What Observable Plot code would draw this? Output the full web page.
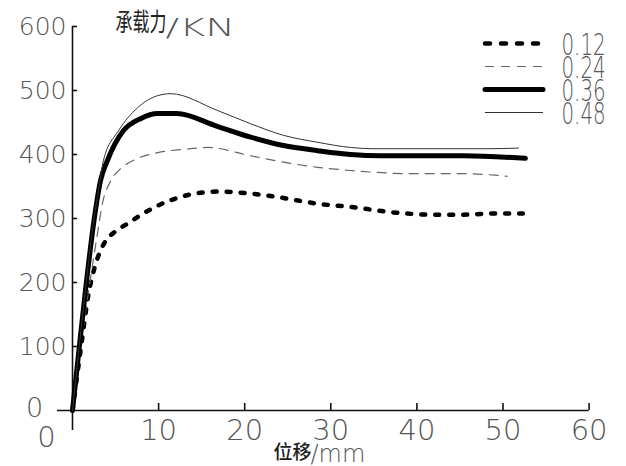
<!DOCTYPE html>
<html><head><meta charset="utf-8">
<script src="https://cdn.jsdelivr.net/npm/d3@7"></script>
<script src="https://cdn.jsdelivr.net/npm/@observablehq/plot@0.6"></script>
<style>
body{margin:0;background:#fff;}
#wrap{position:relative;width:626px;height:466px;}
#legend{position:absolute;left:478px;top:25px;}
</style></head><body><div id="wrap"></div>
<script>
// ---- data ----
const seriesNames = ["0.12", "0.24", "0.36", "0.48"];
const x012 = [0, 1.0, 1.9, 2.5, 3.1, 3.8, 5.0, 6.4, 8.25, 10.2, 12.9, 16.8, 20.7, 24.5, 28.5, 32.3, 37.7, 41.6, 45.4, 49.4, 52.3];
const y012 = [0, 100, 185, 220, 245, 264, 280, 292, 308, 322, 335, 342, 339, 332, 323, 318, 309, 306, 306, 308, 308];
const x024 = [0, 1.0, 1.9, 2.8, 3.5, 4.5, 5.6, 7.1, 9.9, 12.9, 15.7, 20.7, 24.5, 28.5, 32.3, 39.6, 45.4, 50.5];
const y024 = [0, 105, 190, 268, 325, 360, 378, 391, 403, 408, 411, 398, 388, 380, 375, 370, 370, 366];
const x036 = [0, 0.78, 1.5, 2.5, 3.25, 4.07, 5.9, 7.9, 9.9, 12.1, 16.8, 20.7, 24.5, 28.5, 32.3, 35.8, 45.4, 52.6];
const y036 = [0, 98, 187, 297, 359, 391, 437, 456, 464, 464, 444, 427, 414, 406, 400, 398, 398, 394];
const x048 = [0, 0.78, 1.5, 2.5, 3.02, 3.6, 5.34, 7.55, 9.9, 11.4, 16.8, 20.7, 24.5, 28.5, 32.3, 35, 48, 51.8];
const y048 = [0, 100, 190, 300, 344, 391, 437, 473, 492, 495, 469, 448, 430, 419, 411, 409, 409, 410];
const xTicks = [10, 20, 30, 40, 50, 60];
const yTicks = [100, 200, 300, 400, 500, 600];
const zeroLabel = ["0"];
const yTitleCJK = ["承载力"];
const yTitleUnit = ["/KN"];
const xTitleCJK = ["位移"];
const xTitleUnit = ["/mm"];

// ---- build table ----
const xs = [x012, x024, x036, x048];
const ys = [y012, y024, y036, y048];
const table = [];
seriesNames.forEach((s, k) => xs[k].forEach((x, i) => table.push({series: s, x, y: ys[k][i]})));

const styles = {
  "0.12": {stroke: "#000", strokeWidth: 4.5, strokeDasharray: "4,10", strokeLinecap: "round"},
  "0.24": {stroke: "#666", strokeWidth: 1.2, strokeDasharray: "9,7"},
  "0.36": {stroke: "#000", strokeWidth: 5, strokeLinecap: "round"},
  "0.48": {stroke: "#333", strokeWidth: 1}
};

const FONT = "DejaVu Sans";
const TXT = "#555";
const CJK = "Noto Sans CJK SC";

const chart = Plot.plot({
  width: 626, height: 466,
  marginLeft: 72, marginRight: 37.4, marginTop: 26, marginBottom: 56,
  x: {domain: [0, 60]},
  y: {domain: [0, 600]},
  style: {fontFamily: FONT, background: "white", overflow: "visible", fontWeight: 200},
  marks: [
    Plot.ruleX([0], {stroke: "#111", strokeWidth: 1.6, insetBottom: -20}),
    Plot.ruleY([0], {stroke: "#111", strokeWidth: 1.6, insetLeft: -15}),
    Plot.ruleX(xTicks, {x: d => d, y1: 0, y2: 0, insetTop: -7, stroke: "#111", strokeWidth: 1.6}),
    Plot.ruleY(yTicks, {y: d => d, x1: 0, x2: 0, insetRight: -5, stroke: "#111", strokeWidth: 1.6}),
    Plot.axisY(yTicks, {tickSize: 0, tickPadding: 6, fontSize: 25, color: TXT, label: null, fontWeight: 200}),
    Plot.axisX(xTicks, {tickSize: 0, tickPadding: 9, fontSize: 29, color: TXT, label: null, fontWeight: 200}),
    Plot.text(zeroLabel, {x: 0, y: 0, dx: -38, dy: -2, fontSize: 27, fill: TXT, fontWeight: 200}),
    Plot.text(zeroLabel, {x: 0, y: 0, dx: -26, dy: 27, fontSize: 29, fill: TXT, fontWeight: 200}),
    Plot.text(yTitleCJK, {frameAnchor: "top-left", dx: 43, dy: -13, lineAnchor: "top", fontSize: 25, fill: "#222", fontFamily: CJK, fontWeight: 400}),
    Plot.text(yTitleUnit, {frameAnchor: "top-left", dx: 93, dy: -8, lineAnchor: "top", fontSize: 25, fill: TXT, fontWeight: 200}),
    Plot.text(xTitleCJK, {frameAnchor: "bottom-left", dx: 201, dy: 35, lineAnchor: "top", fontSize: 19, fill: "#222", fontFamily: CJK, fontWeight: 500}),
    Plot.text(xTitleUnit, {frameAnchor: "bottom-left", dx: 238, dy: 34, lineAnchor: "top", fontSize: 24, fill: TXT, fontWeight: 200}),
    ...seriesNames.map(s => Plot.line(table.filter(d => d.series === s), {x: "x", y: "y", curve: "monotone-x", ...styles[s]}))
  ]
});

const legend = Plot.plot({
  width: 148, height: 112, margin: 0,
  x: {domain: [0, 1], range: [7, 65], axis: null},
  y: {type: "point", domain: seriesNames, range: [17, 87], padding: 0, axis: null},
  style: {fontFamily: FONT, background: "transparent", overflow: "visible", fontWeight: 200},
  marks: [
    ...seriesNames.map(s => Plot.ruleY([s], {y: d => d, x1: 0, x2: 1, ...styles[s], strokeDasharray: s === "0.12" ? "5,11" : styles[s].strokeDasharray})),
    Plot.text(seriesNames, {y: d => d, x: 1, dx: 18, dy: 2, textAnchor: "start", fontSize: 30, fill: TXT, fontWeight: 200})
  ]
});
legend.id = "legend";

const wrap = document.getElementById("wrap");
wrap.appendChild(chart);
wrap.appendChild(legend);

// horizontal scaling of some lettering to mimic the CAD-like widths
function scaleText(svg, pred, sx) {
  d3.select(svg).selectAll("text").filter(pred).each(function () {
    const t = this.getAttribute("transform") || "";
    const x = +this.getAttribute("x") || 0;
    this.setAttribute("transform", `${t} translate(${x},0) scale(${sx},1) translate(${-x},0)`);
  });
}
scaleText(chart, function () { return this.textContent === "/KN"; }, 1.6);
scaleText(chart, function () { return this.textContent === "承载力"; }, 0.68);
scaleText(legend, () => true, 0.66);
</script>
</body></html>
